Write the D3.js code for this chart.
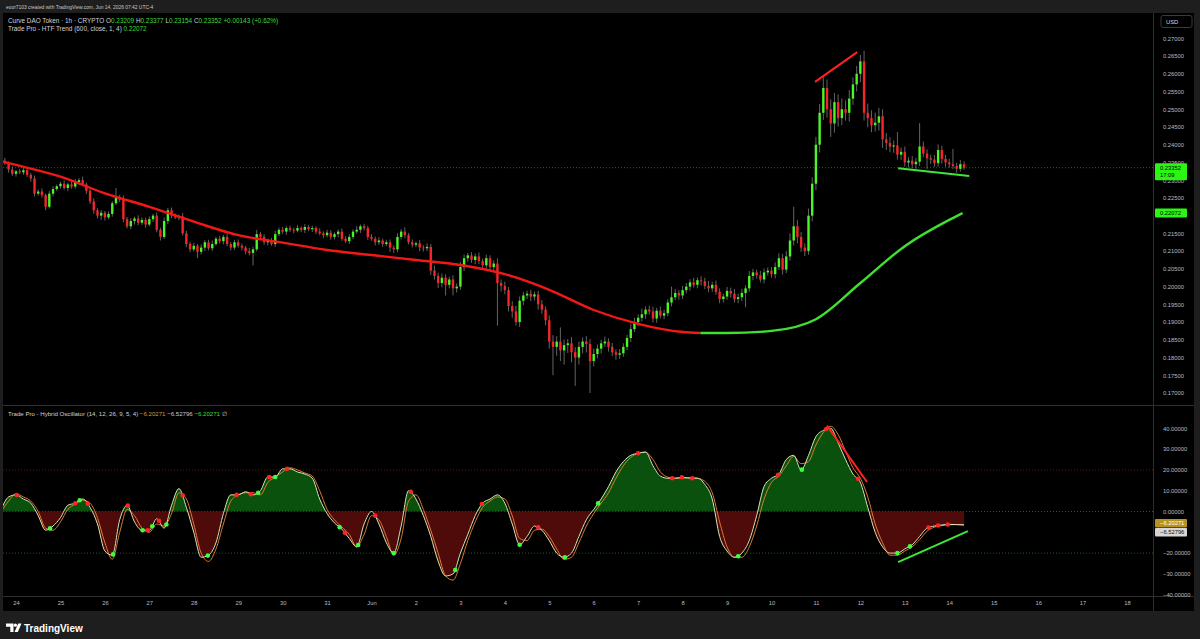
<!DOCTYPE html>
<html>
<head>
<meta charset="utf-8">
<script src="https://cdn.jsdelivr.net/npm/d3@7/dist/d3.min.js"></script>
<style>
  html, body { margin: 0; padding: 0; background: #1e1e1e; }
  svg { display: block; font-family: "Liberation Sans", Arial, sans-serif; }
</style>
</head>
<body>
<div id="chart"></div>
<script>
// 2h candles from 23 May 16:00, prices x 10000 (open = previous close)
const closes = [
  2355,2348,2330,2318,2325,2322,2328,2315,2305,2262,2268,2258,2225,2262,2275,2283,2290,2278,2288,2282,
  2295,2300,2288,2270,2240,2215,2200,2208,2195,2205,2235,2250,2245,2190,2170,2185,2192,2180,2188,2175,
  2190,2200,2160,2140,2185,2215,2200,2195,2198,2150,2120,2105,2115,2098,2110,2125,2108,2120,2135,2128,
  2140,2120,2110,2125,2115,2110,2100,2095,2105,2148,2140,2125,2130,2120,2148,2160,2155,2165,2160,2158,
  2165,2160,2168,2162,2165,2155,2150,2145,2152,2140,2148,2155,2135,2128,2140,2155,2160,2170,2165,2140,
  2135,2125,2130,2120,2125,2110,2105,2140,2155,2145,2125,2118,2122,2110,2108,2112,2045,2030,2010,2025,
  2005,2020,1995,2000,2055,2080,2088,2075,2085,2072,2060,2080,2055,2065,2010,2002,1990,1945,1930,1900,
  1960,1975,1980,1972,1978,1950,1935,1905,1845,1830,1845,1820,1835,1840,1815,1800,1830,1845,1838,1790,
  1810,1825,1840,1845,1830,1815,1808,1812,1830,1855,1880,1900,1912,1922,1935,1930,1910,1932,1918,1925,
  1955,1970,1982,1975,1990,2000,2012,2005,2018,2015,2002,1995,2005,1985,1965,1972,1988,1980,1965,1970,
  1982,1995,2030,2040,2032,2020,2040,2045,2035,2055,2080,2048,2085,2130,2170,2140,2110,2100,2200,2290,
  2400,2490,2560,2500,2460,2520,2475,2500,2490,2530,2570,2600,2635,2490,2475,2455,2462,2480,2415,2405,
  2395,2398,2372,2380,2350,2355,2345,2352,2395,2375,2362,2358,2348,2385,2360,2350,2345,2340,2332,2345,
  2335
];
const firstOpen = 2360;
const wickUp = [
  6,8,5,9,4,7,6,10,5,8,6,9,4,7,8,5,6,9,5,7,
  8,6,10,5,7,9,6,8,5,7,6,28,9,12,6,8,5,9,7,6,
  8,5,9,6,10,7,8,6,5,9,7,6,8,5,9,6,7,10,5,8,
  6,9,5,7,8,6,5,9,7,12,6,8,5,7,9,6,8,5,7,6,
  9,5,8,6,7,5,9,6,8,7,5,6,9,7,8,6,10,5,7,6,
  8,6,9,5,7,8,6,10,7,12,6,8,5,9,7,10,8,14,9,12,
  10,8,12,9,14,10,7,9,8,11,7,10,8,9,15,10,12,9,14,16,
  12,10,9,11,8,10,12,9,14,18,15,40,16,12,18,14,15,12,16,14,
  15,12,10,14,9,11,8,12,10,9,14,12,10,16,9,11,13,8,12,10,
  9,30,11,8,12,10,9,13,8,11,10,14,9,12,10,8,11,9,13,10,
  12,9,14,10,8,12,11,9,10,13,14,12,15,20,55,18,14,12,20,18,
  22,25,30,24,28,26,22,30,25,24,20,22,18,30,26,22,28,24,20,18,
  16,14,38,12,15,10,13,11,66,14,12,10,13,16,12,11,10,43,9,12,
  8
];
const wickDn = [
  7,5,9,6,8,5,7,6,9,8,6,7,10,5,8,6,7,5,9,6,
  6,8,5,9,7,10,8,12,9,6,8,5,7,9,6,8,10,7,6,9,
  5,8,7,10,6,9,7,5,8,6,9,8,6,18,7,9,6,8,5,7,
  9,6,8,7,5,8,9,7,35,6,8,7,9,5,8,6,7,9,6,8,
  5,7,9,6,8,7,5,9,6,8,7,9,6,5,8,7,6,9,7,8,
  6,9,7,8,6,12,10,8,7,9,6,8,7,10,9,8,12,10,14,12,
  30,10,20,12,9,11,10,8,12,9,11,10,9,14,120,16,12,15,18,10,
  14,12,10,13,11,15,12,14,20,80,25,30,40,22,28,80,20,18,24,90,
  15,12,14,10,13,11,14,12,10,9,11,8,12,10,13,9,11,12,8,10,
  9,11,8,12,10,9,11,8,10,12,9,11,10,8,12,10,9,11,10,12,
  11,40,9,12,10,8,11,9,10,12,8,14,10,12,14,18,12,14,10,16,
  18,22,20,24,38,26,24,20,22,25,18,20,24,22,26,20,18,22,24,20,
  16,18,14,15,12,14,11,13,12,10,30,12,11,10,13,12,10,9,11,8,
  6
];

// HTF trend: days since 24 May, price
const htfDays = [-0.36, 0, 1, 2, 3, 4, 5, 6, 7, 8, 9, 10, 11, 12, 13, 14, 15, 15.4, 16, 17, 18, 19, 20, 21, 21.3];
const htfVals = [0.2354, 0.2343, 0.2310, 0.2263, 0.2225, 0.2183, 0.2145, 0.2124, 0.2103, 0.2089, 0.2075, 0.2061,
                 0.2035, 0.1991, 0.1934, 0.1895, 0.1872, 0.1869, 0.1869, 0.1875, 0.1908, 0.2010, 0.2114, 0.2188, 0.2207];
const htfTurn = 15.4;

// Hybrid oscillator, one value every 4h from 23 May 16:00
const oscFast = [
  1,7,8,6,4,-2,-9,-7,-3,3,4,6,2,-6,-19,-21,-4,3,-5,-9,
  -9,-3.5,-8,3,11,2,-10,-22,-21,-15,-1,8,8,9.5,8,10,16.6,16.6,20.5,20.5,
  19,18,16,6,-1,-5.5,-8.5,-13,-17,-6,0,-6,-15,-20,-7,10,6,-2,-12,-24,
  -31,-30,-20,-11,-2,4,6,8,4,-6,-16,-12,-7,-9,-14,-20,-22,-20,-12,-4,
  1,6,12,19,24,27,28,28.6,22,17,16,16,16.5,16,16,13,6,-12,-19,-22,
  -20,-14,-2,12,16,18,25,27,20,27,36,39,40,33,25,18,14,2,-10,-17,
  -20,-20,-18,-16,-12,-8,-7,-6.5,-6.2,-6.3,-6.53
];
const oscSlow = [
  0,5,8.5,7,5,0,-8,-9,-5,1,3.5,5.5,4,-3,-15,-23,-10,1,-2,-8,
  -10,-6,-7,-1,9,6,-6,-20,-24,-18,-6,5,8,9,9,8,14,16.5,19,21,
  20,18.5,17,10,1,-4,-7.5,-11,-17,-11,-2,-4,-12,-21,-13,5,8,1,-9,-20,
  -31,-33,-25,-14,-5,2,5,7,6,-2,-13,-14,-9,-8.5,-12,-18,-23,-22,-15,-7,
  -1,4,9,16,22,26,28,28.5,25,19,16.5,16,16,16.3,16,14.5,9,-5,-17,-22,
  -22,-17,-7,6,14,17,22,26.5,23,24,32,38,41,37,29,21,16,7,-6,-15,
  -21,-21,-19,-17,-13.5,-9.5,-7.5,-6.8,-6.4,-6.3,-6.2
];

// crossover dots: position in 4h bars and colour (they sit on the fast line)
const dotIdx = [2.1,6.6,10,10.6,11.7,15.1,17.1,19.1,19.8,20.4,21.3,22.3,24.5,27.9,31.8,33.7,34.7,36.2,37,38.6,
                45.7,46.4,48.2,50.5,53,55.3,61.3,64.9,70,72.5,76.1,80.6,86,90.6,91.9,93.3,99.5,104.9,108.1,111.4,
                115.7,121,122.7,125.2,126.5,127.8];
const dotCol = ["r","g","r","g","r","g","r","g","r","g","r","g","r","g","r","r","g","r","g","r",
                "g","r","g","r","g","r","g","r","g","r","g","g","r","r","r","r","g","r","g","r",
                "r","g","g","r","r","r"];

// hand drawn lines: [day0, value0, day1, value1, colour]
const priceLines = [[17.98, 0.2577, 18.93, 0.2661, "#ff2222"], [19.85, 0.23334, 21.45, 0.23117, "#3fe63a"]];
const oscLines = [[18.25, 41.3, 19.15, 14.2, "#ff2222"], [19.85, -24.3, 21.42, -9.4, "#3fe63a"]];

const priceTicks = d3.range(17000, 27001, 500).map(v => v / 1e5);
const oscTicks = [-40, -30, -20, -10, 0, 10, 20, 30, 40];
const lastPrice = 0.23352, lastHtf = 0.22072;

const W = 1200, H = 639;
const left = 3, plotRight = 1153, axisRight = 1194;
const priceTop = 13, paneSplit = 405, oscBottom = 596, timeBottom = 611;
const base = Date.UTC(2026, 4, 24), DAY = 864e5;
const toDate = d => new Date(base + d * DAY);
const candleStart = -1 / 3, candleStep = 1 / 12, oscStep = 1 / 6;

const svg = d3.select("#chart").append("svg").attr("width", W).attr("height", H);
svg.append("rect").attr("width", W).attr("height", H).attr("fill", "#1e1e1e");
svg.append("rect").attr("x", left).attr("y", priceTop).attr("width", axisRight - left)
  .attr("height", timeBottom - priceTop).attr("fill", "#000");

const defs = svg.append("defs");
defs.append("clipPath").attr("id", "cp").append("rect")
  .attr("x", left).attr("y", priceTop).attr("width", plotRight - left).attr("height", paneSplit - priceTop);
defs.append("clipPath").attr("id", "co").append("rect")
  .attr("x", left).attr("y", paneSplit + 1).attr("width", plotRight - left).attr("height", oscBottom - paneSplit - 1);

const x = d3.scaleUtc().domain([toDate(0), toDate(25)]).range([16, 1127]);
const y = d3.scaleLinear().domain([0.17, 0.27]).range([393.0, 38.3]);
const yo = d3.scaleLinear().domain([-40, 40]).range([594.7, 428.3]);

// separators
svg.append("line").attr("x1", left).attr("x2", axisRight).attr("y1", paneSplit + 0.5).attr("y2", paneSplit + 0.5).attr("stroke", "#2e2e2e");
svg.append("line").attr("x1", left).attr("x2", axisRight).attr("y1", oscBottom + 0.5).attr("y2", oscBottom + 0.5).attr("stroke", "#2e2e2e");
svg.append("line").attr("x1", plotRight + 0.5).attr("x2", plotRight + 0.5).attr("y1", priceTop).attr("y2", timeBottom).attr("stroke", "#2e2e2e");

// ---- price pane
const pg = svg.append("g").attr("clip-path", "url(#cp)");

pg.append("line").attr("x1", left).attr("x2", plotRight).attr("y1", y(lastPrice)).attr("y2", y(lastPrice))
  .attr("stroke", "#2a8a2a").attr("stroke-dasharray", "1,2").attr("stroke-width", 0.8);

const candles = closes.map((c, i) => {
  const o = i ? closes[i - 1] : firstOpen;
  return {
    t: toDate(candleStart + i * candleStep),
    o: o / 1e4, c: c / 1e4,
    h: (Math.max(o, c) + wickUp[i]) / 1e4,
    l: (Math.min(o, c) - wickDn[i]) / 1e4
  };
});

pg.selectAll("line.wick").data(candles).enter().append("line").attr("class", "wick")
  .attr("x1", d => x(d.t)).attr("x2", d => x(d.t))
  .attr("y1", d => y(d.h)).attr("y2", d => y(d.l))
  .attr("stroke", "#8f8f8f").attr("stroke-width", 0.7);

pg.selectAll("rect.body").data(candles).enter().append("rect").attr("class", "body")
  .attr("x", d => x(d.t) - 1.2).attr("width", 2.4)
  .attr("y", d => y(Math.max(d.o, d.c)))
  .attr("height", d => Math.max(0.8, Math.abs(y(d.o) - y(d.c))))
  .attr("fill", d => d.c >= d.o ? "#4cf526" : "#f5262a");

const htf = htfDays.map((d, i) => ({ t: toDate(d), v: htfVals[i], d: d }));
const htfLine = d3.line().x(d => x(d.t)).y(d => y(d.v)).curve(d3.curveMonotoneX);
pg.append("path").datum(htf.filter(d => d.d <= htfTurn)).attr("d", htfLine)
  .attr("fill", "none").attr("stroke", "#f21818").attr("stroke-width", 2.4);
pg.append("path").datum(htf.filter(d => d.d >= htfTurn)).attr("d", htfLine)
  .attr("fill", "none").attr("stroke", "#3fe030").attr("stroke-width", 2.4);

pg.selectAll("line.draw").data(priceLines).enter().append("line").attr("class", "draw")
  .attr("x1", d => x(toDate(d[0]))).attr("y1", d => y(d[1]))
  .attr("x2", d => x(toDate(d[2]))).attr("y2", d => y(d[3]))
  .attr("stroke", d => d[4]).attr("stroke-width", 2);

// ---- oscillator pane
const og = svg.append("g").attr("clip-path", "url(#co)");
[[20, "#8a1c1c"], [0, "#5a5a5a"], [-20, "#1f7a1f"]].forEach(([v, c]) => {
  og.append("line").attr("x1", left).attr("x2", plotRight).attr("y1", yo(v)).attr("y2", yo(v))
    .attr("stroke", c).attr("stroke-dasharray", "1,2").attr("stroke-width", 0.8);
});

const fast = oscFast.map((v, j) => ({ t: toDate(candleStart + j * oscStep), v }));
const slow = oscSlow.map((v, j) => ({ t: toDate(candleStart + j * oscStep), v }));

defs.append("clipPath").attr("id", "oup").append("rect")
  .attr("x", left).attr("y", paneSplit).attr("width", plotRight - left).attr("height", yo(0) - paneSplit);
defs.append("clipPath").attr("id", "odn").append("rect")
  .attr("x", left).attr("y", yo(0)).attr("width", plotRight - left).attr("height", oscBottom - yo(0));

const area = d3.area().x(d => x(d.t)).y0(yo(0)).y1(d => yo(d.v)).curve(d3.curveMonotoneX);
og.append("path").datum(fast).attr("d", area).attr("fill", "#0b510e").attr("clip-path", "url(#oup)");
og.append("path").datum(fast).attr("d", area).attr("fill", "#4f0a0a").attr("clip-path", "url(#odn)");

const oline = d3.line().x(d => x(d.t)).y(d => yo(d.v)).curve(d3.curveMonotoneX);
og.append("path").datum(slow).attr("d", oline).attr("fill", "none").attr("stroke", "#e07a2c").attr("stroke-width", 1);
const fastPath = og.append("path").datum(fast).attr("d", oline).attr("fill", "none")
  .attr("stroke", "#d6e6bf").attr("stroke-width", 1);

// find where the drawn fast line passes a given x
const fp = fastPath.node(), fpLen = fp.getTotalLength();
function yOnFast(px) {
  let lo = 0, hi = fpLen;
  for (let k = 0; k < 30; k++) {
    const mid = (lo + hi) / 2;
    if (fp.getPointAtLength(mid).x < px) lo = mid; else hi = mid;
  }
  return fp.getPointAtLength(lo).y;
}

og.selectAll("circle").data(dotIdx.map((j, k) => ({ t: toDate(candleStart + j * oscStep), c: dotCol[k] })))
  .enter().append("circle")
  .attr("cx", d => x(d.t)).attr("cy", d => yOnFast(x(d.t))).attr("r", 2.3)
  .attr("fill", d => d.c === "r" ? "#ff2424" : "#3dff3d");

og.selectAll("line.draw").data(oscLines).enter().append("line").attr("class", "draw")
  .attr("x1", d => x(toDate(d[0]))).attr("y1", d => yo(d[1]))
  .attr("x2", d => x(toDate(d[2]))).attr("y2", d => yo(d[3]))
  .attr("stroke", d => d[4]).attr("stroke-width", 2);

// ---- axes (labels hidden behind the value tags are left out)
const txt = "#b8bcc4";
const oscTagY = yo(oscSlow[oscSlow.length - 1]);
const pAxis = svg.append("g").attr("transform", `translate(${plotRight},0)`)
  .call(d3.axisRight(y).tickValues(priceTicks.filter(v => Math.abs(y(v) - y(lastHtf)) > 6))
    .tickSize(0).tickPadding(10).tickFormat(d3.format(".5f")));
const oAxis = svg.append("g").attr("transform", `translate(${plotRight},0)`)
  .call(d3.axisRight(yo).tickValues(oscTicks.filter(v => Math.abs(yo(v) - oscTagY) > 12))
    .tickSize(0).tickPadding(10).tickFormat(d3.format(".5f")));
const tAxis = svg.append("g").attr("transform", `translate(0,${oscBottom})`)
  .call(d3.axisBottom(x).ticks(d3.utcDay.every(1)).tickSize(0).tickPadding(5)
    .tickFormat(d => d.getUTCDate() === 1 ? "Jun" : d.getUTCDate()));
[pAxis, oAxis, tAxis].forEach(a => {
  a.select(".domain").remove();
  a.selectAll("text").attr("fill", txt).attr("font-size", 5.8).attr("font-family", "Liberation Sans, Arial, sans-serif");
});

// price tags
function tag(yv, lines, bg, fg, h) {
  const g = svg.append("g");
  g.append("rect").attr("x", plotRight + 2).attr("y", yv - 4.5).attr("width", 32).attr("height", h).attr("rx", 1).attr("fill", bg);
  lines.forEach((s, k) => g.append("text").attr("x", plotRight + 7).attr("y", yv + 2 + k * 7.5)
    .attr("font-size", 5.8).attr("fill", fg).text(s));
}
tag(y(lastPrice), [d3.format(".5f")(lastPrice), "17:09"], "#2bf513", "#000", 17);
tag(y(lastHtf), [d3.format(".5f")(lastHtf)], "#2bf513", "#000", 9);
tag(oscTagY - 1, ["\u22126.20271"], "#b8921e", "#fff", 8.5);
tag(oscTagY + 8, ["\u22126.52796"], "#d6d6d6", "#111", 8.5);

// USD box
svg.append("rect").attr("x", 1161).attr("y", 15.5).attr("width", 31).attr("height", 12).attr("rx", 2)
  .attr("fill", "#000").attr("stroke", "#3a3a3a");
svg.append("text").attr("x", 1166).attr("y", 23.8).attr("font-size", 5.8).attr("fill", "#d8d8d8").text("USD");

// header and legends
svg.append("text").attr("x", 6).attr("y", 8.5).attr("font-size", 4.9).attr("fill", "#c8c8c8")
  .text("eoor7103 created with TradingView.com, Jun 14, 2026 07:42 UTC-4");

function legend(yy, parts, fs) {
  const t = svg.append("text").attr("x", 8).attr("y", yy).attr("font-size", fs);
  parts.forEach(([s, c]) => t.append("tspan").attr("fill", c).text(s));
}
const G = "#3ddc3a", Wt = "#cfd2d8";
legend(23, [["Curve DAO Token \u00b7 1h \u00b7 CRYPTO  ", Wt], ["O", Wt], ["0.23209 ", G], ["H", Wt], ["0.23377 ", G],
  ["L", Wt], ["0.23154 ", G], ["C", Wt], ["0.23352 ", G], ["+0.00143 (+0.62%)", G]], 6.4);
legend(31, [["Trade Pro - HTF Trend (600, close, 1, 4)  ", Wt], ["0.22072", G]], 6.4);
legend(416, [["Trade Pro - Hybrid Oscillator (14, 12, 26, 9, 5, 4)  ", Wt], ["\u22126.20271  ", "#c99a4a"],
  ["\u22126.52796  ", "#c8c8c8"], ["\u22126.20271  ", G], ["\u2205", Wt]], 6.1);

// footer logo
const fg = svg.append("g").attr("fill", "#fff");
fg.append("path").attr("d", "M6 623.5h7.5v8.5h-3.2v-5.3h-4.3z");
fg.append("circle").attr("cx", 15.4).attr("cy", 625.2).attr("r", 1.6);
fg.append("path").attr("d", "M18.2 623.5h3.3l-3.7 8.5h-3.3z");
svg.append("text").attr("x", 24).attr("y", 631.5).attr("font-size", 10).attr("font-weight", 600)
  .attr("fill", "#fff").text("TradingView");
</script>
</body>
</html>
